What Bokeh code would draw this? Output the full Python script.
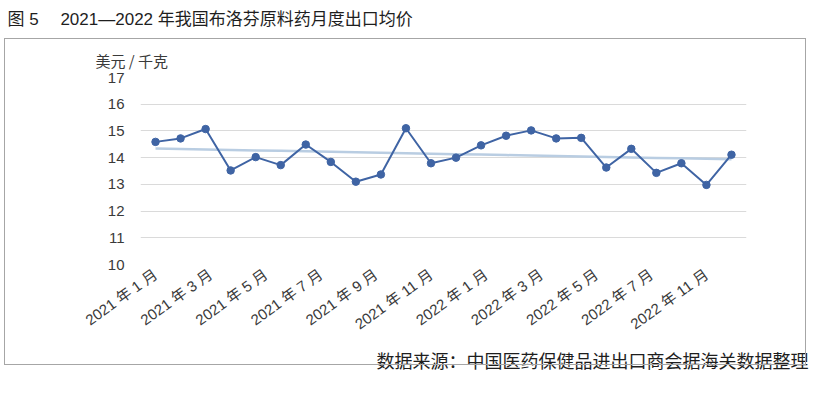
import numpy as np
from bokeh.plotting import figure
from bokeh.models import ColumnDataSource, FixedTicker, Range1d, Title, InlineStyleSheet
from bokeh.embed import file_html
from bokeh.resources import INLINE

# ---- data ----
months = ["2021-01", "2021-02", "2021-03", "2021-04", "2021-05", "2021-06",
          "2021-07", "2021-08", "2021-09", "2021-10", "2021-11", "2021-12",
          "2022-01", "2022-02", "2022-03", "2022-04", "2022-05", "2022-06",
          "2022-07", "2022-08", "2022-09", "2022-10", "2022-11", "2022-12"]
price = [14.59, 14.72, 15.07, 13.52, 14.02, 13.72, 14.49, 13.84, 13.10, 13.37,
         15.10, 13.79, 14.00, 14.46, 14.82, 15.02, 14.72, 14.74, 13.63, 14.33,
         13.43, 13.79, 12.98, 14.11]
tick_labels = ["2021 年 1 月", "2021 年 3 月", "2021 年 5 月", "2021 年 7 月",
               "2021 年 9 月", "2021 年 11 月", "2022 年 1 月", "2022 年 3 月",
               "2022 年 5 月", "2022 年 7 月", "2022 年 11 月"]
y_ticks = [10, 11, 12, 13, 14, 15, 16, 17]

title_text = "图 5\u3000 2021—2022 年我国布洛芬原料药月度出口均价"
unit_text = "美元 / 千克"
source_text = "数据来源：中国医药保健品进出口商会据海关数据整理"

FONT = "'Liberation Sans', 'Noto Sans CJK SC', sans-serif"
CJK = "'Noto Sans CJK SC', sans-serif"
TEXT_DARK = "#1e1e1e"
TEXT_AXIS = "#3a3a3a"

x = np.arange(len(price))
coef = np.polyfit(x, price, 1)
trend = np.polyval(coef, x)
src = ColumnDataSource(dict(x=x, y=price, trend=trend))

# outer grey frame around the chart area (decoration only, viewport pixels)
box_css = InlineStyleSheet(css="""
:host::after {
  content: ""; position: fixed; pointer-events: none;
  left: 4px; top: 38px; width: 800px; height: 325px;
  border: 1px solid #a6a6a6;
}
""")

p = figure(width=811, height=382, output_backend="svg", toolbar_location=None,
           x_range=Range1d(-0.6, len(price) - 1 + 0.6), y_range=Range1d(10, 17),
           min_border_left=140, min_border_right=65, min_border_top=70,
           min_border_bottom=118)
p.stylesheets = [box_css]
p.outline_line_color = None

p.xgrid.grid_line_color = None
p.ygrid.grid_line_color = "#dadada"
p.ygrid.grid_line_width = 1
p.ygrid.ticker = FixedTicker(ticks=y_ticks)

p.yaxis.ticker = FixedTicker(ticks=y_ticks)
p.yaxis.axis_line_color = None
p.yaxis.major_tick_line_color = None
p.yaxis.minor_tick_line_color = None
p.yaxis.major_label_standoff = 10
p.yaxis.major_label_text_font = FONT
p.yaxis.major_label_text_font_size = "15px"
p.yaxis.major_label_text_color = TEXT_AXIS

xt = [float(t) for t in np.linspace(0, len(price) - 2, len(tick_labels))]
p.xaxis.ticker = FixedTicker(ticks=xt)
p.xaxis.major_label_overrides = {t: lab for t, lab in zip(xt, tick_labels)}
p.xaxis.major_label_orientation = 0.62
p.xaxis.axis_line_color = None
p.xaxis.major_tick_line_color = None
p.xaxis.minor_tick_line_color = None
p.xaxis.major_label_standoff = 2
p.xaxis.major_label_text_font = FONT
p.xaxis.major_label_text_font_size = "15px"
p.xaxis.major_label_text_color = TEXT_AXIS

p.add_layout(Title(text=unit_text, align="left", offset=-45, standoff=14,
                   text_font=CJK, text_font_size="15px", text_font_style="normal",
                   text_color=TEXT_AXIS), "above")
p.add_layout(Title(text=title_text, align="left", offset=-133, standoff=19,
                   vertical_align="top", text_baseline="middle",
                   text_font=FONT, text_font_size="17px", text_font_style="normal",
                   text_color=TEXT_DARK), "above")
p.add_layout(Title(text=source_text, align="right", offset=-62, standoff=4,
                   vertical_align="bottom", text_baseline="middle",
                   text_font=CJK, text_font_size="18px", text_font_style="normal",
                   text_color=TEXT_DARK), "below")

p.line("x", "trend", source=src, line_color="#b9cde2", line_width=2.5)
p.line("x", "y", source=src, line_color="#3f64a4", line_width=2)
p.scatter("x", "y", source=src, size=7.5, fill_color="#3f64a4", line_color="#3f64a4")

open("out.html", "w").write(file_html(p, INLINE))
